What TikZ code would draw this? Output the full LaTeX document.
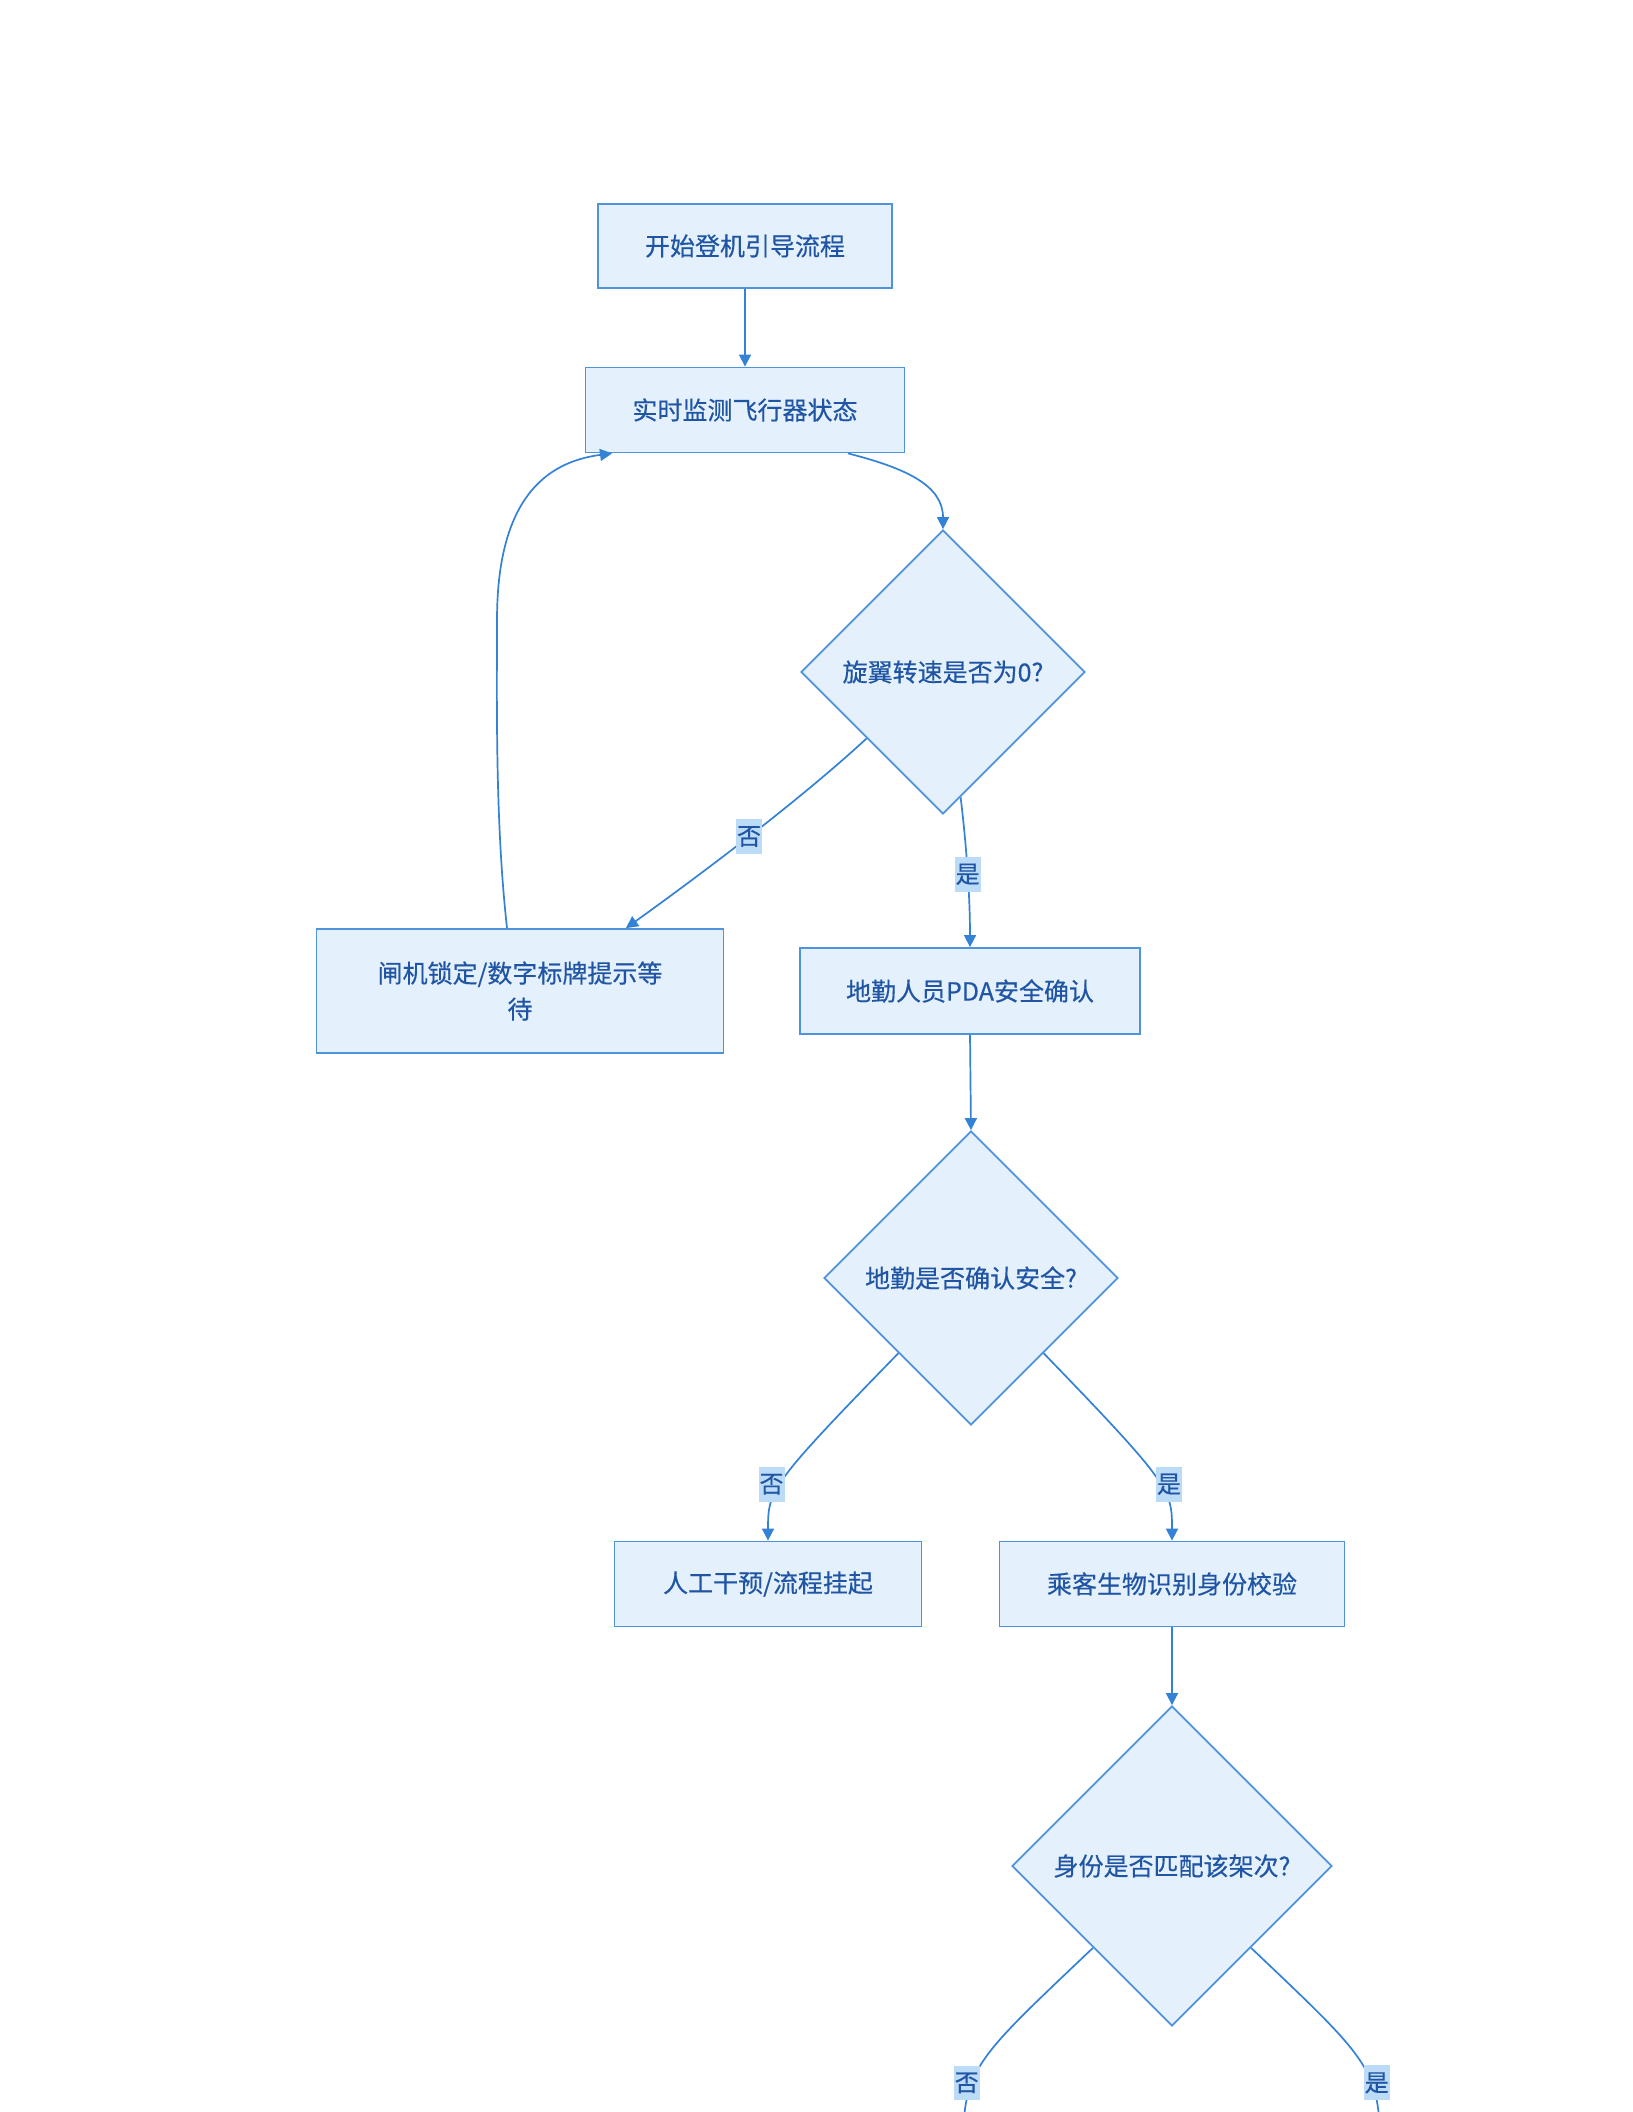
\documentclass[tikz,border=0pt]{standalone}
\usepackage{fontspec}
\newfontfamily\cjk{Noto Sans CJK SC}[FakeBold=0.4]
\usetikzlibrary{arrows.meta, shapes.geometric}

\definecolor{boxfill}{HTML}{E4F0FC}
\definecolor{boxline}{HTML}{4F93DC}
\definecolor{textcol}{HTML}{1F55A4}
\definecolor{linecol}{HTML}{3482D6}
\definecolor{lblfill}{HTML}{BBDBF7}

\begin{document}
\begin{tikzpicture}[x=0.5pt, y=-0.5pt,
    procbox/.style={rectangle, draw=boxline, fill=boxfill, line width=0.9pt, text=textcol,
        font=\cjk\fontsize{12.5}{18}\selectfont, inner sep=0pt, align=center},
    decision/.style={diamond, draw=boxline, fill=boxfill, line width=0.9pt, text=textcol,
        font=\cjk\fontsize{12.5}{18}\selectfont, inner sep=0pt},
    flow/.style={draw=linecol, line width=0.85pt, -{Triangle[width=6pt,length=6pt]}},
    lbl/.style={fill=lblfill, text=textcol, font=\cjk\fontsize{12}{14}\selectfont,
        inner xsep=0.5pt, inner ysep=3.5pt}
]
    \useasboundingbox (0,0) rectangle (1632,2112);
    \fill[white] (0,0) rectangle (1632,2112);
    \clip (0,0) rectangle (1632,2112);

    % nodes
    \node[procbox, minimum width=147pt, minimum height=42pt] (start) at (745,246) {开始登机引导流程};
    \node[procbox, minimum width=159.5pt, minimum height=42.5pt] (monitor) at (745,410) {实时监测飞行器状态};
    \node[decision, minimum width=142pt, minimum height=142pt] (rotor) at (943,672) {旋翼转速是否为0?};
    \node[procbox, minimum width=203.5pt, minimum height=62pt] (gate) at (520,991) {闸机锁定/数字标牌提示等\\待};
    \node[procbox, minimum width=170pt, minimum height=43pt] (pda) at (970,991) {地勤人员PDA安全确认};
    \node[decision, minimum width=147pt, minimum height=147pt] (safe) at (971,1278) {地勤是否确认安全?};
    \node[procbox, minimum width=153.5pt, minimum height=42.5pt] (manual) at (768,1584) {人工干预/流程挂起};
    \node[procbox, minimum width=172.5pt, minimum height=42.5pt] (bio) at (1172,1584) {乘客生物识别身份校验};
    \node[decision, minimum width=160pt, minimum height=160pt] (match) at (1172,1866) {身份是否匹配该架次?};

    % off-page ends
    \coordinate (nomatch) at (963,2160);
    \coordinate (yesmatch) at (1380,2160);

    % connectors
    \draw[flow] (start) -- (monitor);
    \draw[flow] ([xshift=51.5pt]monitor.south) .. controls (905,468) and (943,485) .. (rotor.north);
    \draw[flow] (rotor.221) .. controls (800,800) and (700,875) .. ([xshift=53pt]gate.north)
        node[lbl, pos=0.5] {否};
    \draw[flow] ([xshift=-6.5pt]gate.north) .. controls (495,820) and (497,700) .. (497,620)
        .. controls (497,500) and (545,462) .. ([xshift=-66.5pt]monitor.south);
    \draw[flow] (rotor.-82) .. controls (967,850) and (970,900) .. (pda.north)
        node[lbl, pos=0.5] {是};
    \draw[flow] (pda.south) -- (safe.north);
    \draw[flow] (safe.-134) .. controls (770,1485) and (768,1490) .. (manual.north)
        node[lbl, pos=0.55, xshift=-4.5pt] {否};
    \draw[flow] (safe.-46) .. controls (1171,1485) and (1172,1490) .. (bio.north)
        node[lbl, pos=0.55, xshift=4.5pt] {是};
    \draw[flow] (bio.south) -- (match.north);
    \draw[flow] (match.-134) .. controls (975,2060) and (963,2068) .. (nomatch)
        node[lbl, pos=0.63, xshift=-3pt] {否};
    \draw[flow] (match.-46) .. controls (1369,2060) and (1380,2068) .. (yesmatch)
        node[lbl, pos=0.63, xshift=3pt] {是};
\end{tikzpicture}
\end{document}
